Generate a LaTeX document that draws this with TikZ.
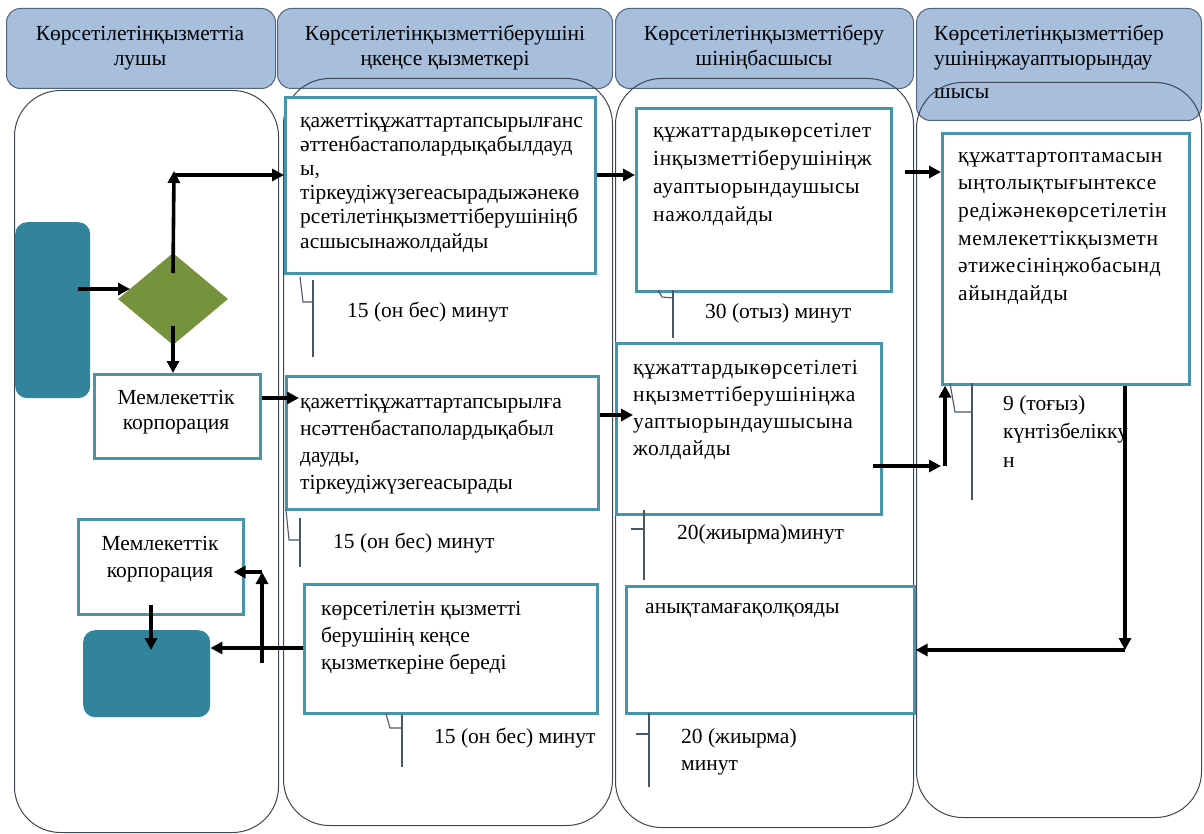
\documentclass[tikz,border=0pt]{standalone}
\usepackage{fontspec}
\setmainfont{Liberation Serif}
\usetikzlibrary{arrows.meta,shapes.geometric}
\definecolor{hdrfill}{HTML}{A7BEDC}
\definecolor{hdrline}{HTML}{52657F}
\definecolor{laneline}{HTML}{3E4653}
\definecolor{boxline}{HTML}{4795AA}
\definecolor{tealfill}{HTML}{31849B}
\definecolor{olivefill}{HTML}{76923C}
\definecolor{calline}{HTML}{4A5566}
\begin{document}
\begin{tikzpicture}[x=1pt,y=-1pt,
  hdr/.style={draw=hdrline,fill=hdrfill,line width=1pt,rounded corners=14pt,anchor=north west,inner sep=0pt},
  lane/.style={draw=laneline,line width=1pt,rounded corners=46pt,anchor=north west,inner sep=0pt},
  pbox/.style={draw=boxline,line width=2.6pt,fill=white,anchor=north west,inner sep=0pt},
  tealbox/.style={fill=tealfill,rounded corners=12pt,anchor=north west,inner sep=0pt},
  tx/.style={align=left,anchor=north west,inner sep=0pt},
  wide/.style={font=\fontsize{21.5}{#1}\selectfont\addfontfeature{LetterSpace=3}},
  hx/.style={font=\fontsize{21.5}{25}\selectfont,align=center,anchor=north,inner sep=0pt},
  mx/.style={font=\fontsize{21.5}{24}\selectfont,anchor=west,inner sep=0pt},
  arr/.style={line width=3.6pt,-{Triangle[length=12pt,width=12pt]}},
  cal/.style={draw=calline,line width=1.1pt}
]
\useasboundingbox (0,0) rectangle (1204,834);
% headers
\node[hdr,minimum width=269pt,minimum height=80pt] (h1) at (6,8) {};
\node[hdr,minimum width=335pt,minimum height=80pt] (h2) at (277,8) {};
\node[hdr,minimum width=298pt,minimum height=80pt] (h3) at (615,8) {};
\node[hdr,minimum width=285pt,minimum height=112pt] (h4) at (916,8) {};
\node[hx] (ht1) at (140,22.5) {\strut Көрсетілетінқызметтіа\\лушы};
\node[hx] (ht2) at (445,22.5) {\strut Көрсетілетінқызметтіберушіні\\ңкеңсе қызметкері};
\node[hx] (ht3) at (764,22.5) {\strut Көрсетілетінқызметтіберу\\шініңбасшысы};
\node[hx,align=left,anchor=north west] (ht4) at (934,22.5) {\strut Көрсетілетінқызметтібер\\ушініңжауаптыорындау\\[8pt]шысы};
% lane bodies
\node[lane,minimum width=264pt,minimum height=742pt] (l1) at (14,90) {};
\node[lane,minimum width=329pt,minimum height=747pt] (l2) at (283,78) {};
\node[lane,minimum width=298pt,minimum height=749pt] (l3) at (615,78) {};
\node[lane,minimum width=285pt,minimum height=735pt] (l4) at (916,82) {};
% shapes
\node[tealbox,minimum width=75pt,minimum height=176pt] (start) at (15,222) {};
\node[diamond,fill=olivefill,minimum width=110pt,minimum height=92pt,inner sep=0pt] (dia) at (173,299) {};
\node[tealbox,minimum width=127pt,minimum height=87pt] (finish) at (83,630) {};
\node[pbox,minimum width=310pt,minimum height=176pt] (b1) at (284,96) {};
\node[pbox,minimum width=255pt,minimum height=183pt] (b2) at (635,107) {};
\node[pbox,minimum width=247pt,minimum height=251pt] (b3) at (941,132) {};
\node[pbox,minimum width=312pt,minimum height=133pt] (b4) at (285,375) {};
\node[pbox,minimum width=265pt,minimum height=171pt] (b5) at (615,342) {};
\node[pbox,minimum width=293pt,minimum height=129pt] (b6) at (303,583) {};
\node[pbox,minimum width=288pt,minimum height=127pt] (b7) at (625,585) {};
\node[pbox,minimum width=166pt,minimum height=84pt] (corp1) at (93,373) {};
\node[pbox,minimum width=165pt,minimum height=95pt] (corp2) at (77,518) {};
% texts
\node[tx,font=\fontsize{21.5}{24.2}\selectfont] (t1) at (300,110) {\strut қажеттіқұжаттартапсырылғанс\\әттенбастаполардықабылдауд\\ы,\\тіркеудіжүзегеасырадыжәнекө\\рсетілетінқызметтіберушініңб\\асшысынажолдайды};
\node[tx,wide=28] (t2) at (653,117.4) {\strut құжаттардыкөрсетілет\\інқызметтіберушініңж\\ауаптыорындаушысы\\нажолдайды};
\node[tx,wide=27.6] (t3) at (958,142.7) {\strut құжаттартоптамасын\\ыңтолықтығынтексе\\редіжәнекөрсетілетін\\мемлекеттікқызметн\\әтижесініңжобасынд\\айындайды};
\node[tx,font=\fontsize{21.5}{27}\selectfont] (t4) at (300,389) {\strut қажеттіқұжаттартапсырылға\\нсәттенбастаполардықабыл\\дауды,\\тіркеудіжүзегеасырады};
\node[tx,wide=27] (t5) at (633,355) {\strut құжаттардыкөрсетілеті\\нқызметтіберушініңжа\\уаптыорындаушысына\\жолдайды};
\node[tx,font=\fontsize{21.5}{27}\selectfont] (t6) at (321,596) {\strut көрсетілетін қызметті\\берушінің кеңсе\\қызметкеріне береді};
\node[tx,font=\fontsize{21.5}{24}\selectfont] (t7) at (645,596) {\strut анықтамағақолқояды};
\node[hx,font=\fontsize{21.5}{25}\selectfont] (tc1) at (176,386.5) {\strut Мемлекеттік\\корпорация};
\node[hx,font=\fontsize{21.5}{27}\selectfont] (tc2) at (160,531) {\strut Мемлекеттік\\корпорация};
% time labels
\node[mx] (m1) at (347,312) {15 (он бес) минут};
\node[mx] (m2) at (705,313) {30 (отыз) минут};
\node[mx] (m3) at (333,543) {15 (он бес) минут};
\node[mx] (m4) at (677,534) {20(жиырма)минут};
\node[mx] (m5) at (434,738) {15 (он бес) минут};
\node[tx,font=\fontsize{21.5}{27}\selectfont] (m6) at (681,724) {\strut 20 (жиырма)\\минут};
\node[tx,font=\fontsize{21.5}{28.5}\selectfont] (m7) at (1003,390) {\strut 9 (тоғыз)\\күнтізбелікку\\н};
% callouts
\draw[cal] (300,277) -- (303,302) -- (313,302); \draw[cal] (313,280) -- (313,357);
\draw[cal] (658,290) -- (662,297) -- (673,298); \draw[cal] (673,290) -- (673,338);
\draw[cal] (286,510) -- (289,540) -- (300,540); \draw[cal] (300,518) -- (300,567);
\draw[cal] (631,529) -- (644,529); \draw[cal] (644,510) -- (644,580);
\draw[cal] (386,714) -- (390,728) -- (402,728); \draw[cal] (402,715) -- (402,767);
\draw[cal] (636,734) -- (649,734); \draw[cal] (649,713) -- (649,787);
\draw[cal] (950,383) -- (955,412) -- (972,412); \draw[cal] (972,383) -- (972,500);
% connectors
\coordinate (j1) at (174,175);
\coordinate (j2) at (945,466);
\coordinate (j3) at (1125,650);
\coordinate (j4) at (262,572);
\draw[arr,shorten <=-12pt] (start.east |- 0,289) -- (130,289);
\draw[arr] ([yshift=26pt]dia.center) -- ([yshift=4pt]j1);
\draw[arr] (j1) -- (j1 -| b1.west);
\draw[arr] ([yshift=-27pt]dia.center) -- (dia.center |- corp1.north);
\draw[arr,shorten >=-14pt] (corp1.east |- 0,398) -- (b4.west |- 0,398);
\draw[arr] (b1.east |- 0,175) -- (b2.west |- 0,175);
\draw[arr,shorten >=-18pt] (b4.east |- 0,415) -- (b5.west |- 0,415);
\draw[arr,shorten <=12pt] (b2.east |- 0,172) -- (b3.west |- 0,172);
\draw[arr,shorten <=-10pt] (b5.east |- j2) -- ([xshift=-4pt]j2);
\draw[arr] (j2) -- (j2 |- b3.south);
\draw[arr] (j3 |- b3.south) -- (j3);
\draw[arr] (j3) -- (b7.east |- j3);
\draw[arr] (b6.west |- 0,648) -- (finish.east |- 0,648);
\draw[arr] (j4 |- 0,663) -- (j4);
\draw[arr,shorten >=-11pt] (j4) -- (corp2.east |- j4);
\draw[arr,shorten <=-11pt] (corp2.south -| 151,0) -- (151,650);
\end{tikzpicture}
\end{document}
